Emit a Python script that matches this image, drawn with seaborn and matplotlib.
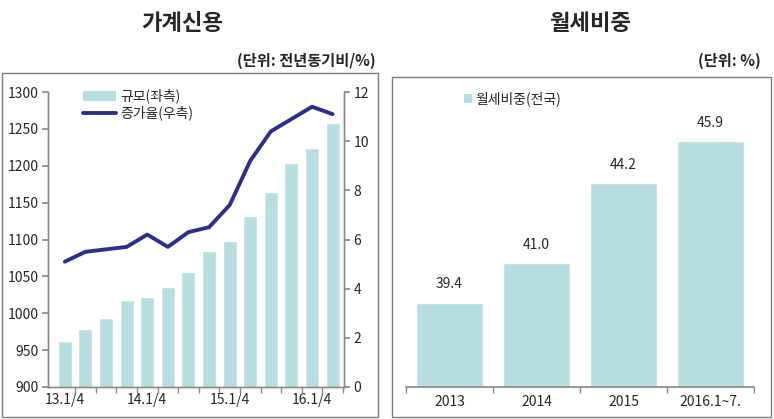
import numpy as np
import pandas as pd
import matplotlib
matplotlib.use("Agg")
import matplotlib.pyplot as plt
import seaborn as sns
from matplotlib.patches import Rectangle
from matplotlib.lines import Line2D
from matplotlib.ticker import FixedLocator

# --- data ---
quarters = ["13.1/4", "13.2/4", "13.3/4", "13.4/4",
            "14.1/4", "14.2/4", "14.3/4", "14.4/4",
            "15.1/4", "15.2/4", "15.3/4", "15.4/4",
            "16.1/4", "16.2/4"]
credit_size = [962, 978, 993, 1018, 1022, 1035, 1056, 1085, 1098, 1132, 1164, 1204, 1224, 1258]
credit_growth = [5.1, 5.5, 5.6, 5.7, 6.2, 5.7, 6.3, 6.5, 7.4, 9.2, 10.4, 10.9, 11.4, 11.1]
quarter_ticks = ["13.1/4", "14.1/4", "15.1/4", "16.1/4"]

rent_years = ["2013", "2014", "2015", "2016.1~7."]
rent_share = [39.4, 41.0, 44.2, 45.9]

bar_color = "#b7dfe1"
line_color = "#2e2f8c"
spine_color = "#8a8a8a"

sns.set_theme(style="white")
plt.rcParams["font.family"] = ["Noto Sans CJK KR", "DejaVu Sans"]

fig = plt.figure(figsize=(7.74, 4.19), dpi=100)

# outer boxes
fig.add_artist(Rectangle((0.002, 0.005), 0.486, 0.821, transform=fig.transFigure,
                         fill=False, edgecolor="#7f7f7f", linewidth=1.0))
fig.add_artist(Rectangle((0.506, 0.005), 0.490, 0.811, transform=fig.transFigure,
                         fill=False, edgecolor="#7f7f7f", linewidth=1.0))

# titles
fig.text(0.235, 0.945, "가계신용", ha="center", va="center", fontsize=16, fontweight="bold")
fig.text(0.762, 0.945, "월세비중", ha="center", va="center", fontsize=16, fontweight="bold")
fig.text(0.485, 0.855, "(단위: 전년동기비/%)", ha="right", va="center", fontsize=11, fontweight="bold")
fig.text(0.983, 0.855, "(단위: %)", ha="right", va="center", fontsize=11, fontweight="bold")

# --- left chart ---
ax = fig.add_axes([0.062, 0.0764, 0.3824, 0.704])
df = pd.DataFrame({"q": quarters, "size": credit_size, "growth": credit_growth})
sns.barplot(data=df, x="q", y="size", color=bar_color, saturation=1, width=0.68, ax=ax)
ax.set_ylim(900, 1300)
ax.set_xlim(-0.82, 13.55)
ax.set_yticks(np.arange(900, 1301, 50))
ax.set_xlabel("")
ax.set_ylabel("")
ax.set_xticks([quarters.index(t) for t in quarter_ticks])
ax.set_xticklabels(quarter_ticks)
ax.xaxis.set_minor_locator(FixedLocator(np.arange(0.5, len(quarters), 1.0)))
ax.tick_params(axis="x", which="major", length=0, labelsize=10, pad=4)
ax.tick_params(axis="x", which="minor", length=4, color=spine_color, bottom=True, direction="out")
ax.tick_params(axis="y", length=4, color=spine_color, left=True, direction="out", labelsize=10, pad=3)

ax2 = ax.twinx()
sns.lineplot(x=np.arange(len(quarters)), y=credit_growth, color=line_color, linewidth=2.8, ax=ax2)
ax2.set_ylim(0, 12)
ax2.set_yticks(np.arange(0, 13, 2))
ax2.tick_params(axis="y", length=4, color=spine_color, right=True, direction="out", labelsize=10, pad=3)

for a in (ax, ax2):
    a.spines["top"].set_visible(False)
    for s in ("left", "right", "bottom"):
        a.spines[s].set_color(spine_color)
        a.spines[s].set_linewidth(1.0)
    a.set_facecolor("none")

handles = [Rectangle((0, 0), 1, 1, facecolor=bar_color, edgecolor="none"),
           Line2D([0], [0], color=line_color, linewidth=2.8)]
ax.legend(handles, ["규모(좌측)", "증가율(우측)"], loc="upper left", bbox_to_anchor=(0.1, 1.03),
          frameon=False, fontsize=10, handlelength=2.4, handleheight=0.7, labelspacing=0.15,
          handletextpad=0.3, borderaxespad=0)

# --- right chart ---
bx = fig.add_axes([0.5245, 0.0764, 0.4496, 0.711])
rdf = pd.DataFrame({"year": rent_years, "share": rent_share})
sns.barplot(data=rdf, x="year", y="share", color=bar_color, saturation=1, width=0.77, ax=bx)
bx.set_ylim(36, 48)
bx.set_xlim(-0.5, len(rent_years) - 0.5)
bx.set_xlabel("")
bx.set_ylabel("")
bx.set_yticks([])
bx.xaxis.set_minor_locator(FixedLocator(np.arange(-0.5, len(rent_years), 1.0)))
bx.tick_params(axis="x", which="major", length=0, labelsize=10, pad=6)
bx.tick_params(axis="x", which="minor", length=4, color=spine_color, bottom=True, direction="out")
for s in ("top", "left", "right"):
    bx.spines[s].set_visible(False)
bx.spines["bottom"].set_color(spine_color)
bx.set_facecolor("none")
for container in bx.containers:
    bx.bar_label(container, labels=[f"{v:.1f}" for v in rent_share], padding=8, fontsize=10)

bx.legend([Rectangle((0, 0), 1, 1, facecolor=bar_color, edgecolor="none")], ["월세비중(전국)"],
          loc="upper left", bbox_to_anchor=(0.15, 1.01), frameon=False, fontsize=10,
          handlelength=0.6, handleheight=0.6, handletextpad=0.2, borderaxespad=0)

fig.savefig("out.png", dpi=100)
